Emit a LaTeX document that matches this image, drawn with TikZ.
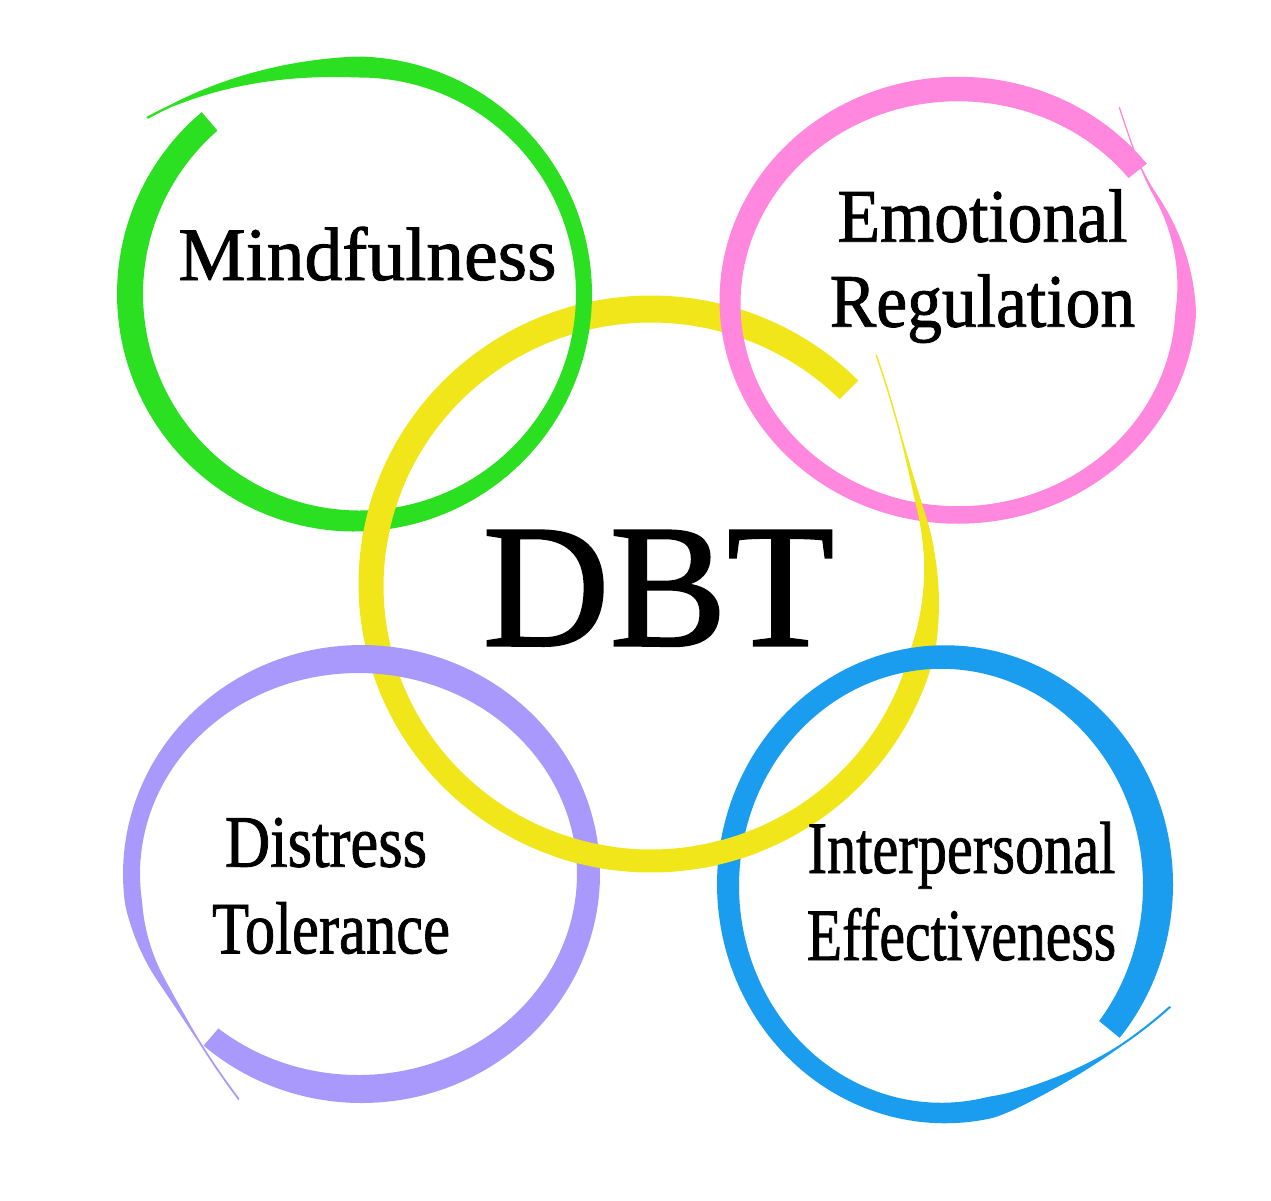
\documentclass[tikz,border=0pt]{standalone}
\usepackage{fontspec}
\setmainfont{Liberation Serif}
\newfontfamily\ringfont[FakeBold=1.2]{Liberation Serif}

\definecolor{mindgreen}{RGB}{42,224,32}
\definecolor{emopink}{RGB}{255,136,222}
\definecolor{dbtyellow}{RGB}{240,230,26}
\definecolor{distpurple}{RGB}{170,153,252}
\definecolor{interblue}{RGB}{26,157,238}

\tikzset{
  declare function={
    gd(\t)=47*(max(0,(-90-\t)/50))^2;
    gw(\t)=(21-5*cos(\t))*min(1,max(0.1,(\t+140)/50));
    pd(\t)=34*(max(0,(-30-\t)/22))^2;
    pw(\t)=(21-3.5*sin(\t))*min(1,max(0.06,((\t+52)/55)^2));
    yd(\t)=44*(max(0,(-15-\t)/31))^2;
    yw(\t)=(25-2*sin(\t))*min(1,max(0.06,((\t+46)/60)^2));
    ud(\t)=38*(max(0,(150-\t)/33))^2;
    uw(\t)=(28-8*cos(\t)^2+3*cos(\t))*min(1,max(0.08,((\t-117)/55)^2));
    bd(\t)=40*(max(0,(70-\t)/43))^2;
    bw(\t)=(22+4*cos(\t)+4*cos(\t)^2-1.5*sin(\t))*min(1,max(0.08,((\t-27)/50)^2));
  },
  ringtext/.style={font=\ringfont\fontsize{21.5}{24}\selectfont, anchor=base, inner sep=0pt},
  smalltext/.style={ringtext, font=\ringfont\fontsize{21}{24}\selectfont},
}

% yellow brush ring, used twice
\newcommand{\dbtring}{%
  \fill[dbtyellow] plot[domain=-46:315,samples=220] ({651+(280+yd(\x)+yw(\x)/2)*cos(\x)},{585+(276+yd(\x)+yw(\x)/2)*sin(\x)})
    -- plot[domain=315:-46,samples=220] ({651+(280+yd(\x)-yw(\x)/2)*cos(\x)},{585+(276+yd(\x)-yw(\x)/2)*sin(\x)}) -- cycle;}

\begin{document}
\begin{tikzpicture}[x=0.01cm,y=-0.01cm]

\fill[white] (0,0) rectangle (1271,1200);

% Centre ring
\dbtring

% Green ring
\fill[mindgreen] plot[domain=-140:229.5,samples=220] ({357+(227+gd(\x)+gw(\x)/2)*cos(\x)},{294+(227+gd(\x)+gw(\x)/2)*sin(\x)})
  -- plot[domain=229.5:-140,samples=220] ({357+(227+gd(\x)-gw(\x)/2)*cos(\x)},{294+(227+gd(\x)-gw(\x)/2)*sin(\x)}) -- cycle;

% Pink ring
\fill[emopink] plot[domain=-52:322,samples=220] ({958+(228+pd(\x)+pw(\x)/2)*cos(\x)},{302+(213+pd(\x)+pw(\x)/2)*sin(\x)})
  -- plot[domain=322:-52,samples=220] ({958+(228+pd(\x)-pw(\x)/2)*cos(\x)},{302+(213+pd(\x)-pw(\x)/2)*sin(\x)}) -- cycle;

% Purple ring
\fill[distpurple] plot[domain=117:490.7,samples=220] ({360+(228.5+ud(\x)+uw(\x)/2)*cos(\x)},{874+(215+ud(\x)+uw(\x)/2)*sin(\x)})
  -- plot[domain=490.7:117,samples=220] ({360+(228.5+ud(\x)-uw(\x)/2)*cos(\x)},{874+(215+ud(\x)-uw(\x)/2)*sin(\x)}) -- cycle;

% Blue ring
\fill[interblue] plot[domain=27:399.3,samples=220] ({943+(215+bd(\x)+bw(\x)/2)*cos(\x)},{885+(228+bd(\x)+bw(\x)/2)*sin(\x)})
  -- plot[domain=399.3:27,samples=220] ({943+(215+bd(\x)-bw(\x)/2)*cos(\x)},{885+(228+bd(\x)-bw(\x)/2)*sin(\x)}) -- cycle;

% yellow on top where the rings weave under it
\foreach \cx/\cy in {385/518, 928/518, 585/858, 727/851}{
  \begin{scope}
    \clip (\cx,\cy) circle (32);
    \dbtring
  \end{scope}
}

% Labels
\node[ringtext] (mind) at (367.5,280) {Mindfulness};
\node[ringtext] (emo) at (982.5,241.7) {\scalebox{0.92}[1]{Emotional}};
\node[ringtext] (reg) at (982.5,326.7) {\scalebox{0.92}[1]{Regulation}};
\node[smalltext] (dist) at (326,866.7) {\scalebox{0.85}[1]{Distress}};
\node[smalltext] (tol) at (331,953.3) {\scalebox{0.82}[1]{Tolerance}};
\node[smalltext] (inter) at (961.5,873) {\scalebox{0.79}[1]{Interpersonal}};
\node[smalltext] (eff) at (961.5,960) {\scalebox{0.78}[1]{Effectiveness}};
\node[ringtext,font=\ringfont\fontsize{50}{56}\selectfont] (dbt) at (658.5,645.6) {DBT};
\end{tikzpicture}
\end{document}
